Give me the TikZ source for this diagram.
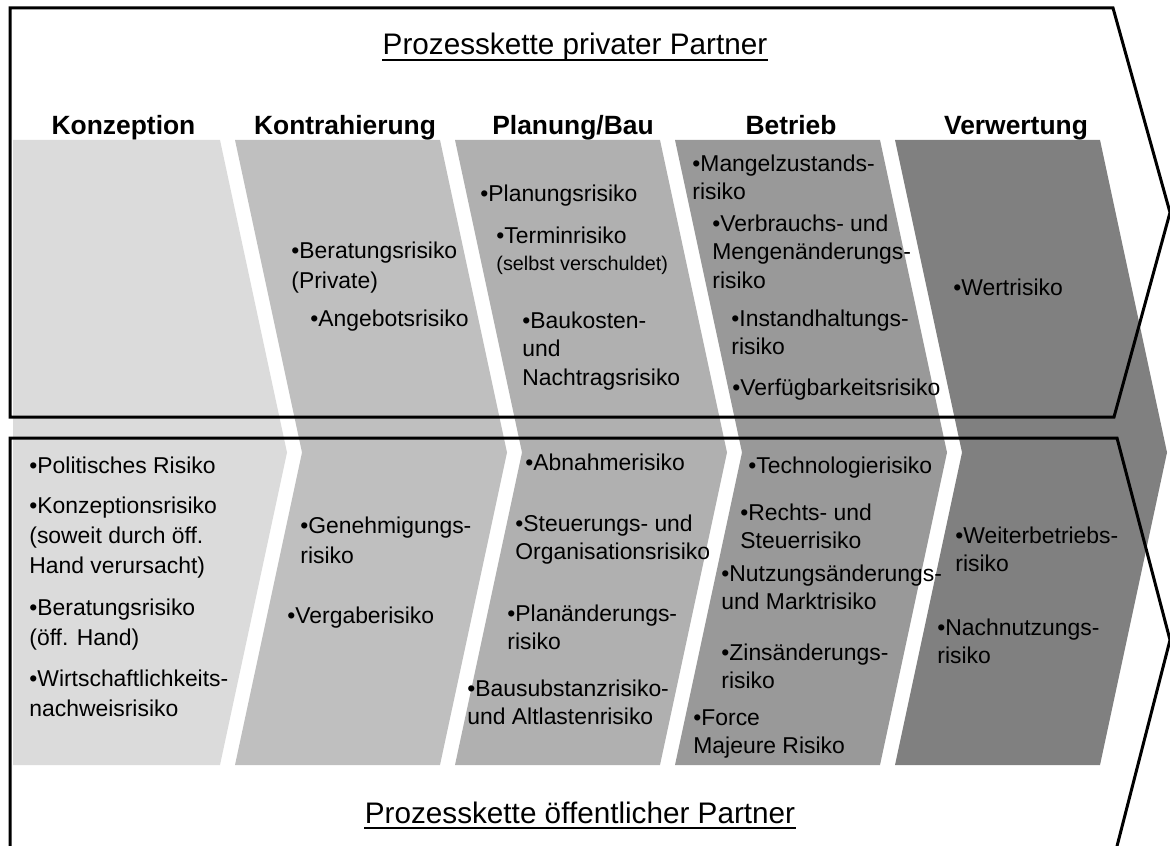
\documentclass[tikz,border=0pt]{standalone}
\usepackage{fontspec}
\setmainfont{Liberation Sans}
\definecolor{bandA}{gray}{0.86}
\definecolor{bandB}{gray}{0.75}
\definecolor{bandC}{gray}{0.69}
\definecolor{bandD}{gray}{0.60}
\definecolor{bandE}{gray}{0.50}
\newcommand{\rk}{\fontsize{11.45}{14.25}\selectfont}
\newcommand{\rkwide}{\fontsize{11.45}{15}\selectfont}

\begin{document}
\begin{tikzpicture}[x=0.5pt, y=-0.5pt,
    risk/.style={anchor=base west, align=left, inner sep=0pt, font=\rk},
    phase/.style={anchor=base, inner sep=0pt, font=\fontsize{13.2}{15}\selectfont\bfseries},
    chain/.style={anchor=base, inner sep=0pt, font=\fontsize{14.85}{17}\selectfont},
    frame/.style={line width=1.5pt, line join=miter}]
    \useasboundingbox (0,0) rectangle (1170,845);
    \clip (0,0) rectangle (1170,845);

    \fill[bandA] (13,140) -- (220,140) -- (287,452.5) -- (220,765) -- (13,765) -- cycle;
    \foreach \k/\c in {1/bandB,2/bandC,3/bandD,4/bandE}
      \fill[\c] ({220*\k+15},140) -- ({220*\k+220},140) -- ({220*\k+287},452.5)
        -- ({220*\k+220},765) -- ({220*\k+15},765) -- ({220*\k+82},452.5) -- cycle;

    \node[chain] (ttop) at (575,55) {Prozesskette privater Partner};
    \draw[line width=1pt] ([yshift=-2.5pt]ttop.base west) -- ([yshift=-2.5pt]ttop.base east);

    \node[phase] (konz) at (123.5,135) {Konzeption};
    \node[phase] (kontr) at (345,135) {Kontrahierung};
    \node[phase] (plan) at (573,135) {Planung/Bau};
    \node[phase] (betr) at (791,135) {Betrieb};
    \node[phase] (verw) at (1016,135) {Verwertung};

    \node[risk, font=\rkwide] (berpriv) at (291,288) {•Beratungsrisiko\\(Private)};
    \node[risk] (angeb) at (310,326) {•Angebotsrisiko};
    \node[risk] (planr) at (480,201) {•Planungsrisiko};
    \node[risk] (termin) at (496,243) {•Terminrisiko};
    \node[risk, font=\fontsize{9.9}{12}\selectfont] (selbst) at (496,270) {(selbst verschuldet)};
    \node[risk] (baukost) at (522,385) {•Baukosten-\\und\\Nachtragsrisiko};
    \node[risk] (mangel) at (692,199.5) {•Mangelzustands-\\risiko};
    \node[risk] (verbr) at (712,288) {•Verbrauchs- und\\Mengenänderungs-\\risiko};
    \node[risk] (instand) at (731,354.5) {•Instandhaltungs-\\risiko};
    \node[risk] (verfueg) at (732,395) {•Verfügbarkeitsrisiko};
    \node[risk] (wert) at (953,295) {•Wertrisiko};

    \node[risk] (polit) at (29,473) {•Politisches Risiko};
    \node[risk, font=\rkwide] (konzr) at (29,573) {•Konzeptionsrisiko\\(soweit durch öff.\\Hand verursacht)};
    \node[risk, font=\rkwide] (beroeff) at (29,645) {•Beratungsrisiko\\(öff. Hand)};
    \node[risk, font=\rkwide] (wirt) at (29,716) {•Wirtschaftlichkeits-\\nachweisrisiko};
    \node[risk, font=\rkwide] (genehm) at (300,563) {•Genehmigungs-\\risiko};
    \node[risk] (vergabe) at (287,623) {•Vergaberisiko};
    \node[risk] (abnahme) at (525,470) {•Abnahmerisiko};
    \node[risk] (steuer) at (515,559.5) {•Steuerungs- und\\Organisationsrisiko};
    \node[risk] (planaend) at (507,649.5) {•Planänderungs-\\risiko};
    \node[risk] (bausubst) at (467,724.5) {•Bausubstanzrisiko-\\und Altlastenrisiko};
    \node[risk] (techno) at (748,473) {•Technologierisiko};
    \node[risk] (recht) at (740,548.5) {•Rechts- und\\Steuerrisiko};
    \node[risk] (nutzung) at (721,609.5) {•Nutzungsänderungs-\\und Marktrisiko};
    \node[risk] (zins) at (721,688.5) {•Zinsänderungs-\\risiko};
    \node[risk] (force) at (693,753.5) {•Force\\Majeure Risiko};
    \node[risk] (weiter) at (955,571.5) {•Weiterbetriebs-\\risiko};
    \node[risk] (nachnutz) at (937,663.5) {•Nachnutzungs-\\risiko};

    \node[chain] (tbot) at (580,823) {Prozesskette öffentlicher Partner};
    \draw[line width=1pt] ([yshift=-2.5pt]tbot.base west) -- ([yshift=-2.5pt]tbot.base east);

    \draw[frame] (10,8) -- (1113,8) -- (1170,212.5) -- (1114,417) -- (10,417) -- cycle;
    \draw[frame] (1116,850) -- (1170,640) -- (1117,438) -- (10,438) -- (10,850);
  \end{tikzpicture}
\end{document}
